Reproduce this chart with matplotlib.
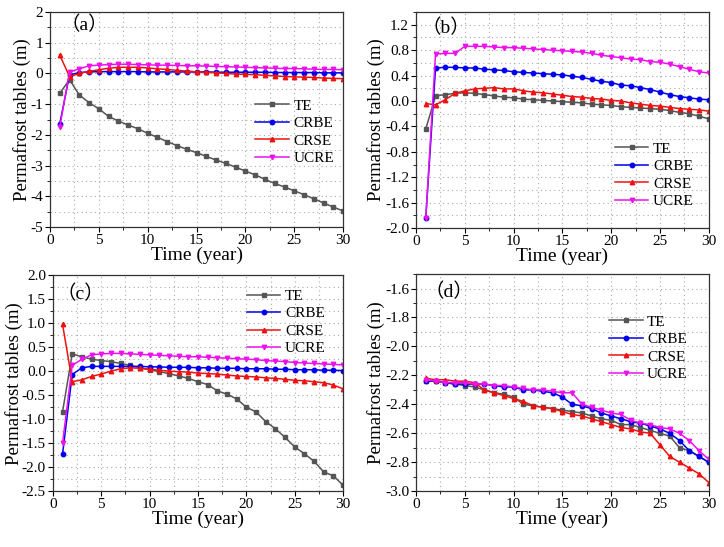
import numpy as np
import matplotlib
matplotlib.use('Agg')
import matplotlib.pyplot as plt
from matplotlib.ticker import MultipleLocator, AutoMinorLocator, FormatStrFormatter

plt.rcParams['font.family'] = ['Liberation Serif', 'Noto Sans CJK SC']
plt.rcParams['axes.unicode_minus'] = False

years = list(range(1, 31))
series_names = ['TE', 'CRBE', 'CRSE', 'UCRE']

# panel (a)
a_te = [-0.65, -0.2, -0.7, -0.95, -1.15, -1.4, -1.55, -1.68, -1.8, -1.95,
        -2.08, -2.22, -2.35, -2.47, -2.58, -2.7, -2.82, -2.93, -3.05, -3.18,
        -3.3, -3.45, -3.58, -3.7, -3.82, -3.95, -4.08, -4.22, -4.35, -4.48]
a_crbe = [-1.65, -0.05, 0.03, 0.05, 0.06, 0.06, 0.06, 0.06, 0.06, 0.05,
          0.05, 0.05, 0.05, 0.05, 0.05, 0.05, 0.04, 0.04, 0.04, 0.04,
          0.04, 0.04, 0.03, 0.03, 0.03, 0.03, 0.03, 0.02, 0.02, 0.02]
a_crse = [0.6, -0.1, 0.0, 0.07, 0.12, 0.17, 0.2, 0.2, 0.2, 0.18,
          0.15, 0.13, 0.1, 0.08, 0.05, 0.04, 0.02, 0.0, -0.02, -0.03,
          -0.04, -0.06, -0.08, -0.1, -0.11, -0.12, -0.13, -0.15, -0.16, -0.17]
a_ucre = [-1.75, 0.05, 0.15, 0.25, 0.27, 0.29, 0.3, 0.3, 0.29, 0.28,
          0.27, 0.27, 0.26, 0.25, 0.25, 0.24, 0.23, 0.22, 0.21, 0.2,
          0.19, 0.18, 0.17, 0.16, 0.16, 0.15, 0.14, 0.13, 0.13, 0.12]

# panel (b)
b_te = [-0.44, 0.08, 0.1, 0.12, 0.13, 0.12, 0.1, 0.08, 0.06, 0.05,
        0.03, 0.02, 0.01, 0.0, -0.01, -0.02, -0.03, -0.05, -0.06, -0.07,
        -0.09, -0.1, -0.11, -0.12, -0.13, -0.15, -0.18, -0.2, -0.24, -0.28]
b_crbe = [-1.84, 0.52, 0.53, 0.53, 0.52, 0.52, 0.5, 0.49, 0.48, 0.46,
          0.45, 0.44, 0.43, 0.42, 0.41, 0.39, 0.37, 0.34, 0.31, 0.29,
          0.25, 0.24, 0.21, 0.18, 0.14, 0.1, 0.07, 0.05, 0.03, 0.02]
b_crse = [-0.04, -0.06, 0.02, 0.12, 0.16, 0.19, 0.2, 0.21, 0.19, 0.19,
          0.16, 0.14, 0.13, 0.11, 0.09, 0.07, 0.06, 0.04, 0.03, 0.01,
          0.0, -0.03, -0.05, -0.07, -0.08, -0.1, -0.12, -0.13, -0.14, -0.16]
b_ucre = [-1.84, 0.74, 0.75, 0.75, 0.86, 0.86, 0.86, 0.85, 0.84, 0.84,
          0.83, 0.82, 0.81, 0.8, 0.79, 0.78, 0.77, 0.75, 0.72, 0.7,
          0.68, 0.66, 0.65, 0.62, 0.61, 0.58, 0.54, 0.5, 0.46, 0.44]

# panel (c)
c_te = [-0.85, 0.36, 0.3, 0.25, 0.22, 0.2, 0.16, 0.12, 0.07, 0.03,
        -0.01, -0.05, -0.1, -0.15, -0.22, -0.28, -0.41, -0.48, -0.58, -0.75,
        -0.85, -1.05, -1.2, -1.38, -1.58, -1.72, -1.88, -2.1, -2.18, -2.38]
c_crbe = [-1.73, -0.07, 0.07, 0.1, 0.1, 0.1, 0.1, 0.1, 0.1, 0.09,
          0.09, 0.08, 0.08, 0.08, 0.07, 0.07, 0.06, 0.06, 0.06, 0.05,
          0.05, 0.05, 0.04, 0.04, 0.03, 0.03, 0.03, 0.02, 0.02, 0.01]
c_crse = [0.98, -0.22, -0.18, -0.11, -0.06, 0.0, 0.05, 0.07, 0.06, 0.04,
          0.02, 0.0, -0.01, -0.02, -0.04, -0.05, -0.06, -0.08, -0.1, -0.11,
          -0.12, -0.14, -0.15, -0.17, -0.19, -0.2, -0.22, -0.24, -0.29, -0.37]
c_ucre = [-1.5, 0.12, 0.25, 0.34, 0.36, 0.37, 0.37, 0.36, 0.35, 0.34,
          0.33, 0.32, 0.31, 0.3, 0.3, 0.29, 0.28, 0.27, 0.26, 0.25,
          0.24, 0.22, 0.21, 0.2, 0.18, 0.17, 0.16, 0.15, 0.14, 0.13]

# panel (d)
d_te = [-2.24, -2.24, -2.25, -2.26, -2.27, -2.28, -2.3, -2.32, -2.33, -2.35,
        -2.4, -2.41, -2.42, -2.43, -2.44, -2.45, -2.46, -2.48, -2.5, -2.51,
        -2.54, -2.54, -2.56, -2.58, -2.6, -2.62, -2.7, -2.72, -2.76, -2.8]
d_crbe = [-2.24, -2.24, -2.25, -2.26, -2.26, -2.26, -2.26, -2.27, -2.28, -2.28,
          -2.3, -2.3, -2.31, -2.32, -2.35, -2.4, -2.41, -2.43, -2.46, -2.48,
          -2.5, -2.52, -2.53, -2.55, -2.57, -2.6, -2.65, -2.72, -2.76, -2.8]
d_crse = [-2.22, -2.23, -2.23, -2.24, -2.24, -2.25, -2.3, -2.32, -2.34, -2.36,
          -2.38, -2.41, -2.42, -2.43, -2.45, -2.47, -2.48, -2.5, -2.52, -2.54,
          -2.56, -2.57, -2.59, -2.6, -2.68, -2.76, -2.8, -2.84, -2.88, -2.94]
d_ucre = [-2.23, -2.24, -2.25, -2.25, -2.25, -2.26, -2.26, -2.27, -2.27, -2.28,
          -2.29, -2.3, -2.3, -2.31, -2.32, -2.32, -2.4, -2.42, -2.44, -2.46,
          -2.47, -2.51, -2.53, -2.54, -2.56, -2.57, -2.6, -2.65, -2.72, -2.78]

styles = [('#555555', 's'), ('#0000ee', 'o'), ('#ee1111', '^'), ('#ee11ee', 'v')]

# tag, data, ylim, y step, axes rect, legend anchor, ylabel x, tag xy
panels = [
    ('（a）', [a_te, a_crbe, a_crse, a_ucre], (-5, 2), 1.0,
     [0.069, 0.585, 0.405, 0.393], (0.70, 0.595), -0.066, (0.035, 0.94)),
    ('（b）', [b_te, b_crbe, b_crse, b_ucre], (-2.0, 1.4), 0.4,
     [0.5746, 0.583, 0.4044, 0.395], (0.679, 0.398), -0.106, (0.018, 0.926)),
    ('（c）', [c_te, c_crbe, c_crse, c_ucre], (-2.5, 2.0), 0.5,
     [0.073, 0.102, 0.401, 0.395], (0.668, 0.935), -0.102, (0.012, 0.912)),
    ('（d）', [d_te, d_crbe, d_crse, d_ucre], (-3.0, -1.5), 0.2,
     [0.5746, 0.102, 0.4044, 0.397], (0.659, 0.811), -0.106, (0.028, 0.917)),
]

fig = plt.figure(figsize=(7.24, 5.47), dpi=100)

for tag, data, ylim, ystep, pos, legpos, ylx, tagxy in panels:
    ax = fig.add_axes(pos)
    for name, vals, (col, mk) in zip(series_names, data, styles):
        ax.plot(years, vals, color=col, marker=mk, markersize=3.2,
                linewidth=1.1, label=name)
    ax.set_xlim(0, 30)
    ax.set_ylim(*ylim)
    ax.xaxis.set_major_locator(MultipleLocator(5))
    ax.yaxis.set_major_locator(MultipleLocator(ystep))
    ax.xaxis.set_minor_locator(AutoMinorLocator(2))
    ax.yaxis.set_minor_locator(AutoMinorLocator(2))
    if ystep < 1:
        ax.yaxis.set_major_formatter(FormatStrFormatter('%.1f'))
    ax.grid(which='both', color='#aaaaaa', linestyle=(0, (1, 3)), linewidth=0.8)
    ax.tick_params(which='major', direction='out', length=3.5, pad=1.5,
                   labelsize=11)
    ax.tick_params(which='minor', direction='out', length=2)
    for sp in ax.spines.values():
        sp.set_color('#333333')
        sp.set_linewidth(0.9)
    ax.set_xlabel('Time (year)', fontsize=14, labelpad=0)
    ax.set_ylabel('Permafrost tables (m)', fontsize=13.5)
    ax.yaxis.set_label_coords(ylx, 0.5)
    ax.text(tagxy[0], tagxy[1], tag, transform=ax.transAxes, fontsize=14,
            va='center', ha='left')
    ax.legend(loc='upper left', bbox_to_anchor=legpos, frameon=False,
              fontsize=11, handlelength=2.2, handletextpad=0.3,
              labelspacing=0.25, borderaxespad=0, borderpad=0)

fig.savefig('out.png', dpi=100)
